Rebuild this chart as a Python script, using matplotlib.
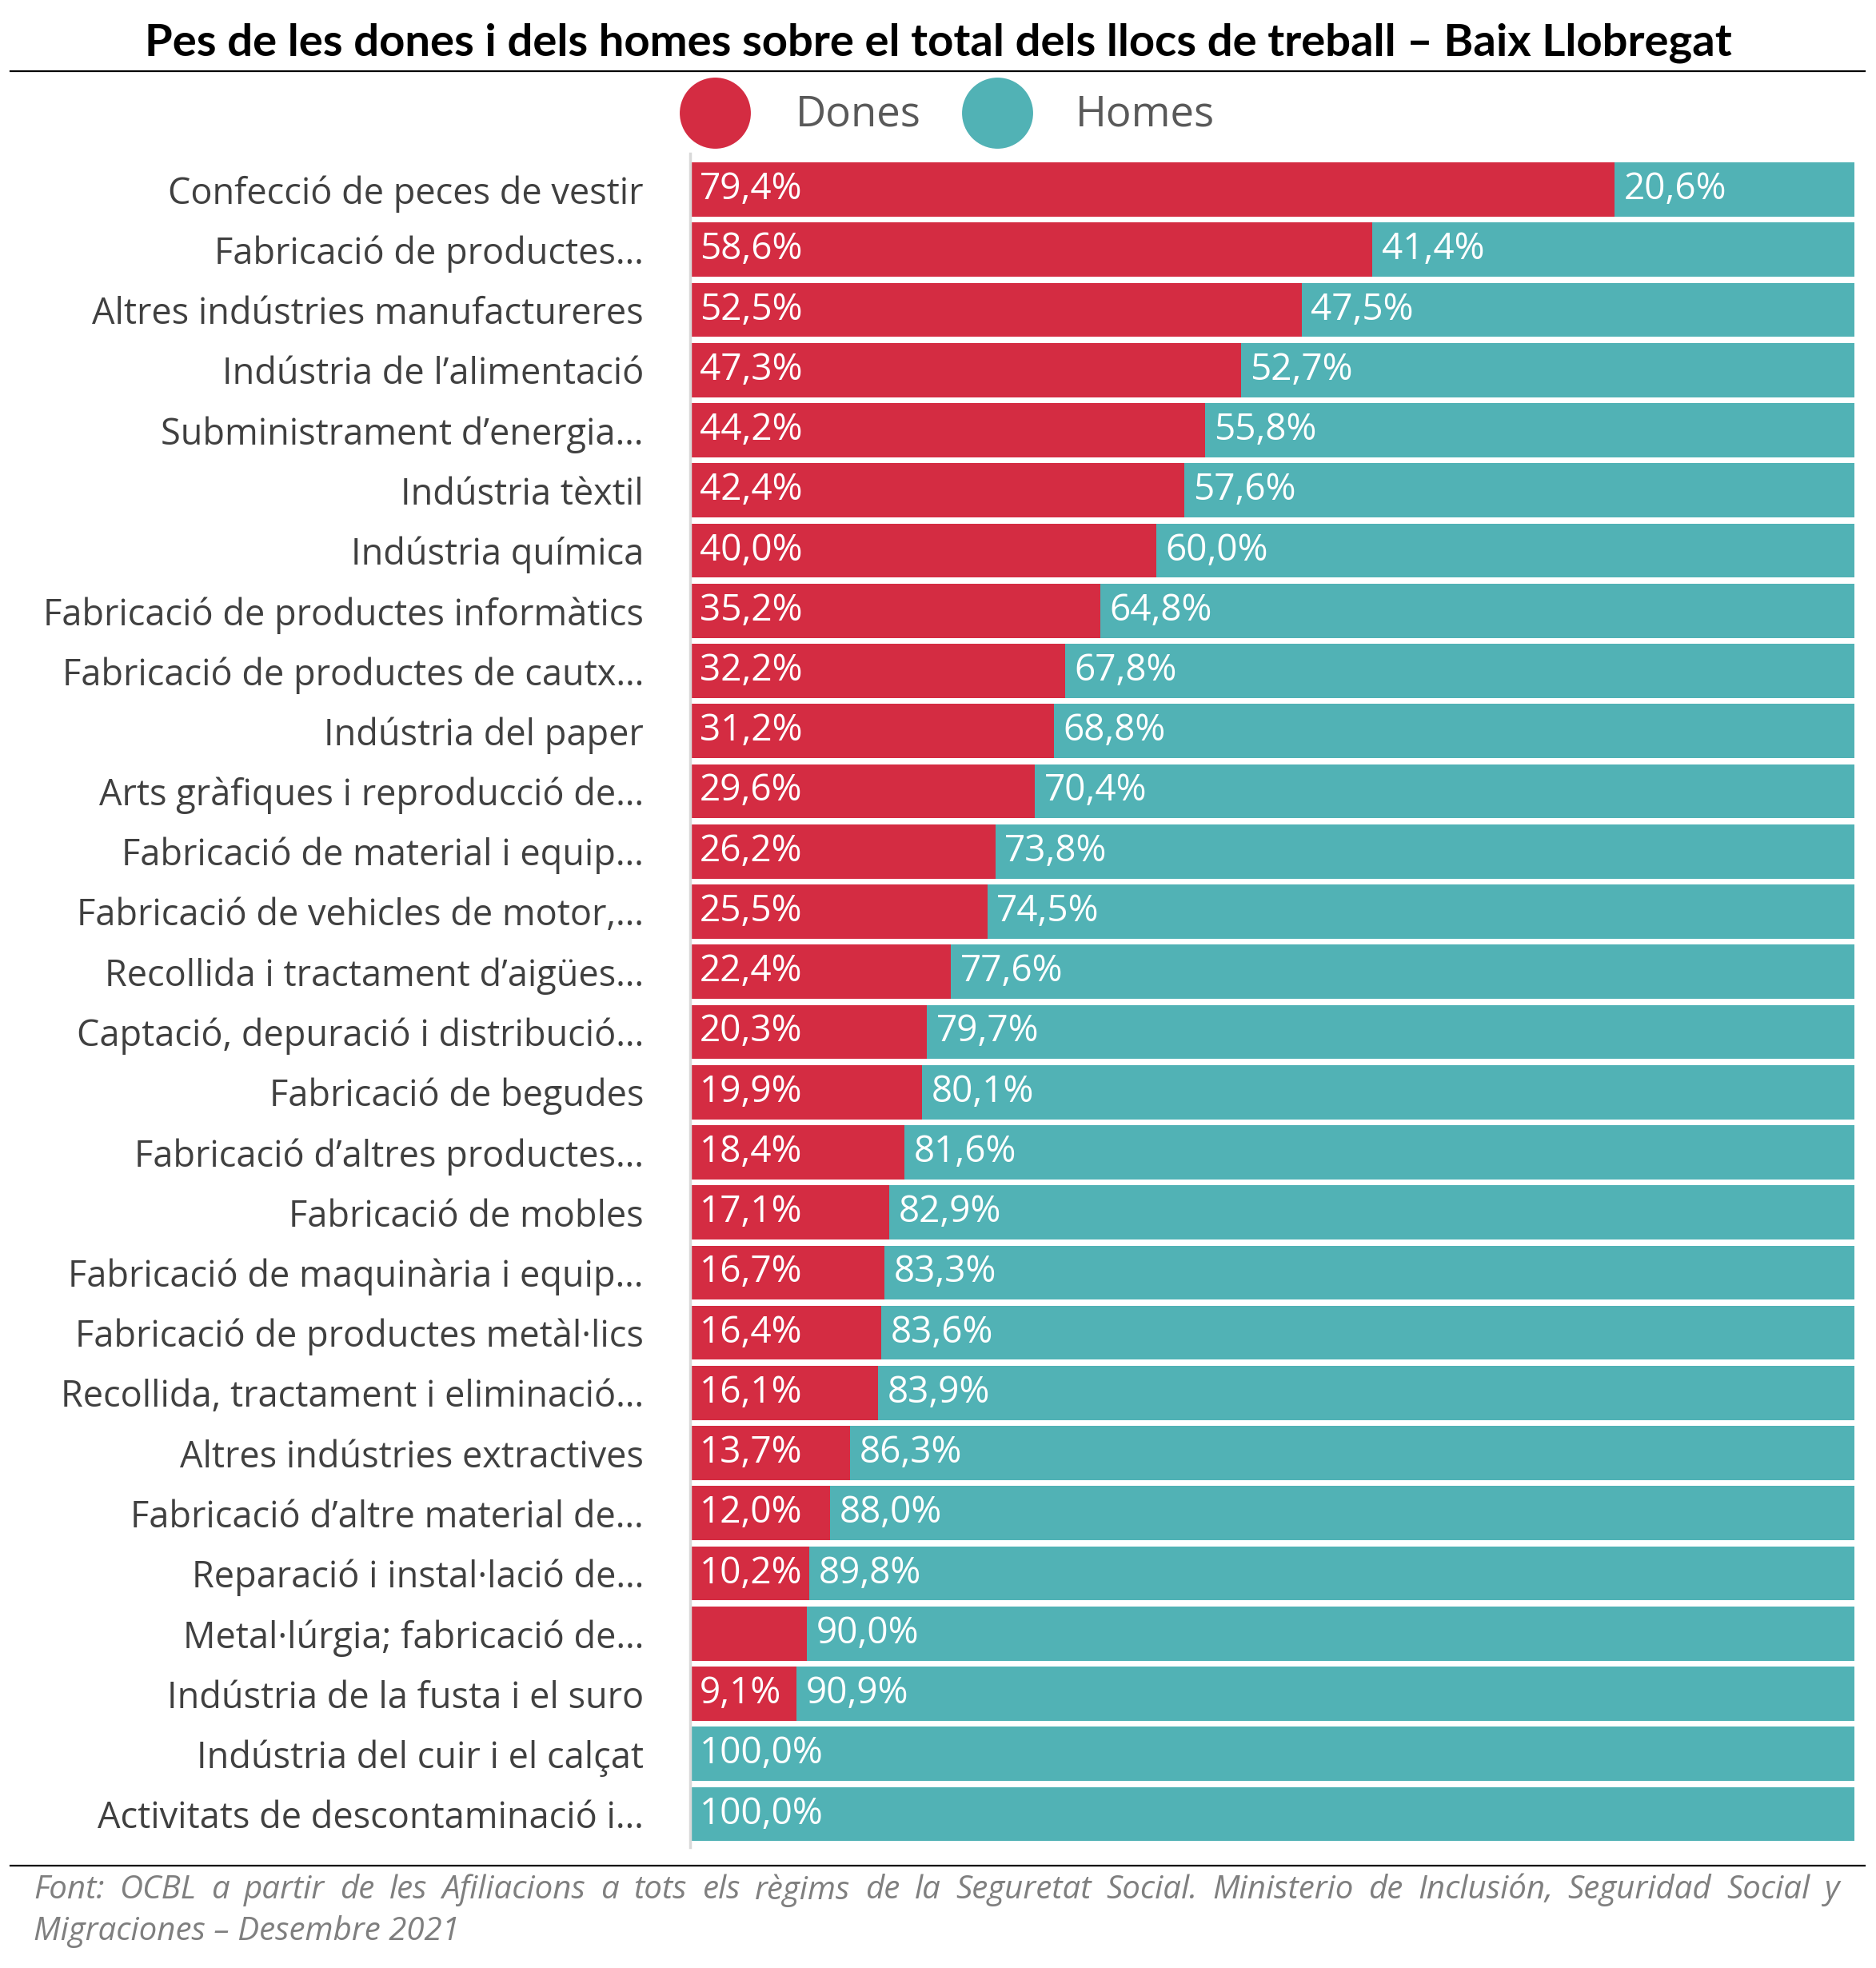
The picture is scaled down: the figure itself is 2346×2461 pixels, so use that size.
import matplotlib
matplotlib.use("Agg")
import matplotlib.pyplot as plt
from matplotlib.lines import Line2D
import numpy as np

categories = [
    "Confecció de peces de vestir",
    "Fabricació de productes…",
    "Altres indústries manufactureres",
    "Indústria de l’alimentació",
    "Subministrament d’energia…",
    "Indústria tèxtil",
    "Indústria química",
    "Fabricació de productes informàtics",
    "Fabricació de productes de cautx…",
    "Indústria del paper",
    "Arts gràfiques i reproducció de…",
    "Fabricació de material i equip…",
    "Fabricació de vehicles de motor,…",
    "Recollida i tractament d’aigües…",
    "Captació, depuració i distribució…",
    "Fabricació de begudes",
    "Fabricació d’altres productes…",
    "Fabricació de mobles",
    "Fabricació de maquinària i equip…",
    "Fabricació de productes metàl·lics",
    "Recollida, tractament i eliminació…",
    "Altres indústries extractives",
    "Fabricació d’altre material de…",
    "Reparació i instal·lació de…",
    "Metal·lúrgia; fabricació de…",
    "Indústria de la fusta i el suro",
    "Indústria del cuir i el calçat",
    "Activitats de descontaminació i…",
]
dones = [79.4, 58.6, 52.5, 47.3, 44.2, 42.4, 40.0, 35.2, 32.2, 31.2, 29.6, 26.2, 25.5, 22.4,
         20.3, 19.9, 18.4, 17.1, 16.7, 16.4, 16.1, 13.7, 12.0, 10.2, 10.0, 9.1, 0.0, 0.0]
homes = [20.6, 41.4, 47.5, 52.7, 55.8, 57.6, 60.0, 64.8, 67.8, 68.8, 70.4, 73.8, 74.5, 77.6,
         79.7, 80.1, 81.6, 82.9, 83.3, 83.6, 83.9, 86.3, 88.0, 89.8, 90.0, 90.9, 100.0, 100.0]
# label shown on the Dones segment (hidden where the original omits it)
dones_show = [True] * 24 + [False, True, False, False]

series_names = ["Dones", "Homes"]
RED = "#D42C42"
TEAL = "#51B2B5"

title = "Pes de les dones i dels homes sobre el total dels llocs de treball – Baix Llobregat"
footer1 = ("Font: OCBL a partir de les Afiliacions a tots els règims de la Seguretat Social. "
           "Ministerio de Inclusión, Seguridad Social y")
footer2 = "Migraciones – Desembre 2021"

W, H = 2346, 2461
fig = plt.figure(figsize=(W / 100, H / 100), dpi=100)
fig.patch.set_facecolor("white")

ax = fig.add_axes([0.368, 0.0614, 0.9885 - 0.368, 0.8606])
y = np.arange(len(categories))
bh = 0.9
ax.barh(y, dones, height=bh, color=RED, linewidth=0)
ax.barh(y, homes, left=dones, height=bh, color=TEAL, linewidth=0)

def fmt(v):
    return f"{v:.1f}%".replace(".", ",")

VAL_FS = 33
for i in range(len(categories)):
    if dones[i] > 0 and dones_show[i]:
        ax.text(0.8, y[i], fmt(dones[i]), color="white", fontsize=VAL_FS,
                family="Open Sans", va="center", ha="left")
    if homes[i] > 0:
        ax.text(dones[i] + 0.8, y[i], fmt(homes[i]), color="white", fontsize=VAL_FS,
                family="Open Sans", va="center", ha="left")

ax.set_xlim(0, 100)
ax.set_ylim(len(categories) - 1 + 0.55, -0.6)
ax.set_yticks(y)
ax.set_yticklabels(categories, fontsize=32.5, family="Open Sans", color="#404040")
ax.tick_params(axis="y", length=0, pad=42)
ax.set_xticks([])
for s in ["top", "right", "bottom"]:
    ax.spines[s].set_visible(False)
ax.spines["left"].set_color("#d9d9d9")
ax.spines["left"].set_linewidth(2.5)

# title and rules
fig.text(0.5, 0.978, title, ha="center", va="center", fontsize=40.5,
         family="Lato", fontweight="bold", color="black")
fig.add_artist(Line2D([0.0055, 0.994], [0.9638, 0.9638], color="black", lw=1.6,
                      transform=fig.transFigure))
fig.add_artist(Line2D([0.0055, 0.994], [0.052, 0.052], color="black", lw=1.6,
                      transform=fig.transFigure))

# legend
for name, col, cx, tx in [(series_names[0], RED, 894 / W, 995 / W),
                          (series_names[1], TEAL, 1247 / W, 1345 / W)]:
    fig.add_artist(Line2D([cx], [1 - 141 / H], marker="o", markersize=64, color=col,
                          markeredgewidth=0, linestyle="none", transform=fig.transFigure))
    fig.text(tx, 1 - 144 / H, name, ha="left", va="center", fontsize=38,
             family="Open Sans", color="#595959")

# footer (line 1 justified to full width)
FOOT_FS = 29
fkw = dict(fontsize=FOOT_FS, family="Open Sans", style="italic", color="#7f7f7f",
           va="center", ha="left")
fig.canvas.draw()
renderer = fig.canvas.get_renderer()
words = footer1.split(" ")
x_left, x_right = 42 / W, 2300 / W
y1 = 1 - 2364 / H
tmp = [fig.text(0, y1, w_, **fkw) for w_ in words]
widths = [t.get_window_extent(renderer).width / W for t in tmp]
gap = (x_right - x_left - sum(widths)) / (len(words) - 1)
xpos = x_left
for t, wd in zip(tmp, widths):
    t.set_x(xpos)
    xpos += wd + gap
fig.text(x_left, 1 - 2415 / H, footer2, **fkw)

fig.savefig("out.png", dpi=100, facecolor="white")
